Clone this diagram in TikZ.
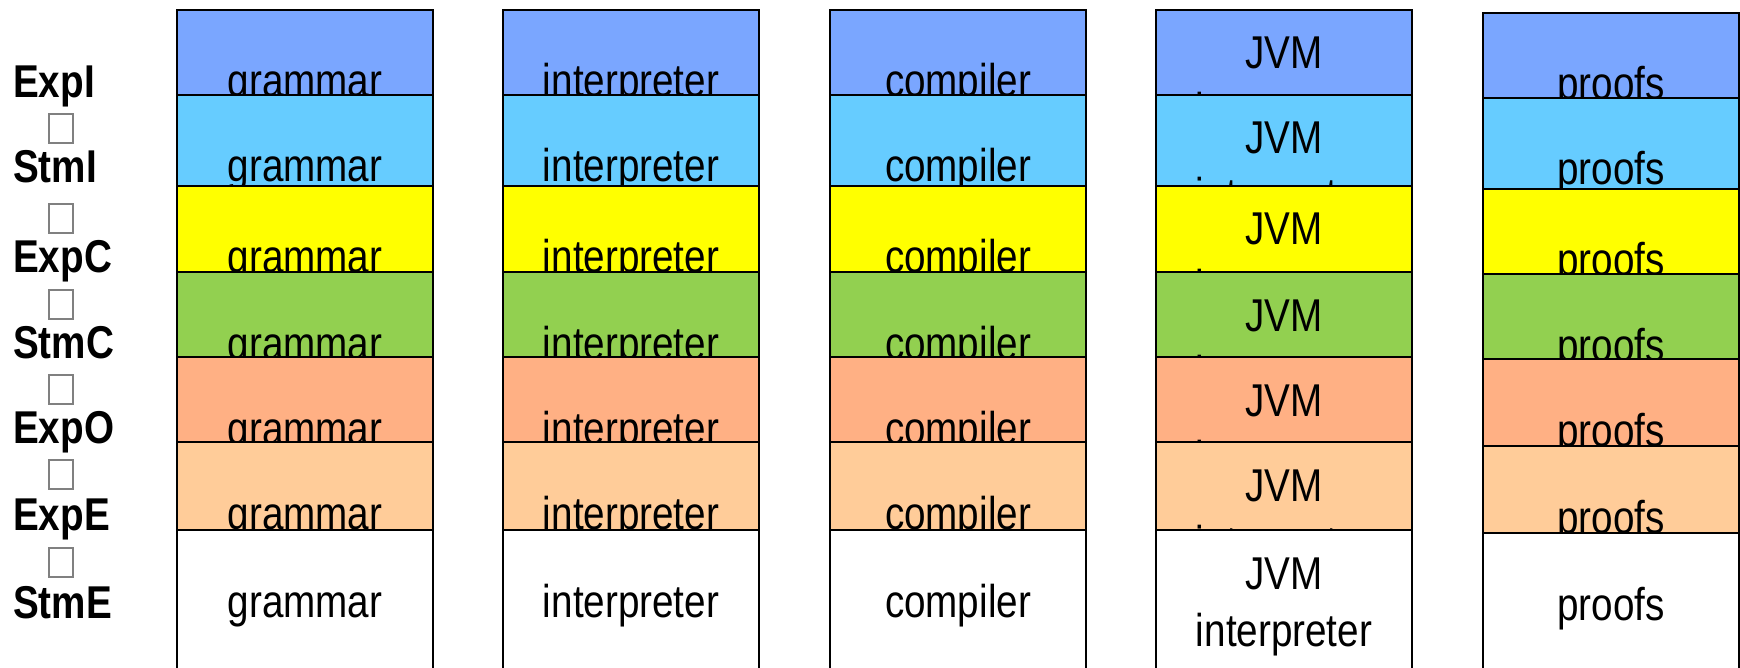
\documentclass[tikz,border=0pt]{standalone}
\usepackage{fontspec}
\setmainfont{Liberation Sans}[FakeStretch=0.84]
\definecolor{layerI}{HTML}{7AA6FF}
\definecolor{layerSI}{HTML}{66CCFF}
\definecolor{layerC}{HTML}{FFFF00}
\definecolor{layerSC}{HTML}{92D050}
\definecolor{layerO}{HTML}{FFB084}
\definecolor{layerE}{HTML}{FFCC99}
\definecolor{layerSE}{HTML}{FFFFFF}
\begin{document}
\begin{tikzpicture}[x=1pt,y=-1pt,
  cell/.style={draw=black,line width=2pt,minimum width=256pt,minimum height=140pt,
    anchor=north west,inner sep=0pt,outer sep=0pt},
  word/.style={font=\fontsize{46}{52}\selectfont,anchor=base,inner sep=0pt},
  layer/.style={font=\bfseries\fontsize{46}{52}\selectfont,anchor=base west,inner sep=0pt},
  tofu/.style={draw=gray,line width=1.5pt,minimum width=24pt,minimum height=29pt,inner sep=0pt}]
\useasboundingbox (0,0) rectangle (1740,668);
\clip (0,0) rectangle (1740,668);

% stacked cells: each row is drawn over the lower part of the previous one
\foreach \r/\t/\s/\fc in {1/10/13/layerI, 2/95/98/layerSI, 3/186/189/layerC,
    4/272/274/layerSC, 5/357/359/layerO, 6/442/446/layerE, 7/530/533/layerSE}{
  \foreach \k/\x/\w in {1/177/grammar, 2/503/interpreter, 3/830/compiler}{
    \node[cell,fill=\fc] (b\k-\r) at (\x,\t) {};
    \path (b\k-\r.north) ++(0,87) node[word] (w\k-\r) {\w};
  }
  \node[cell,fill=\fc] (b4-\r) at (1156,\t) {};
  \path (b4-\r.north) ++(0,59) node[word] (j\r) {JVM};
  \path (b4-\r.north) ++(0,116) node[word] (i\r) {interpreter};
  \node[cell,fill=\fc] (b5-\r) at (1483,\s) {};
  \path (b5-\r.north) ++(0,87) node[word] (p\r) {proofs};
}

% language layer names
\foreach \n/\name/\y in {1/ExpI/98, 2/StmI/183, 3/ExpC/273, 4/StmC/358,
    5/ExpO/443, 6/ExpE/530, 7/StmE/618}
  \node[layer] (l\n) at (13,\y) {\name};

% empty glyph boxes between the names
\foreach \n/\y in {1/128.5, 2/218.5, 3/304.5, 4/389.5, 5/474.5, 6/562.5}
  \node[tofu] (t\n) at (61,\y) {};
\end{tikzpicture}
\end{document}
